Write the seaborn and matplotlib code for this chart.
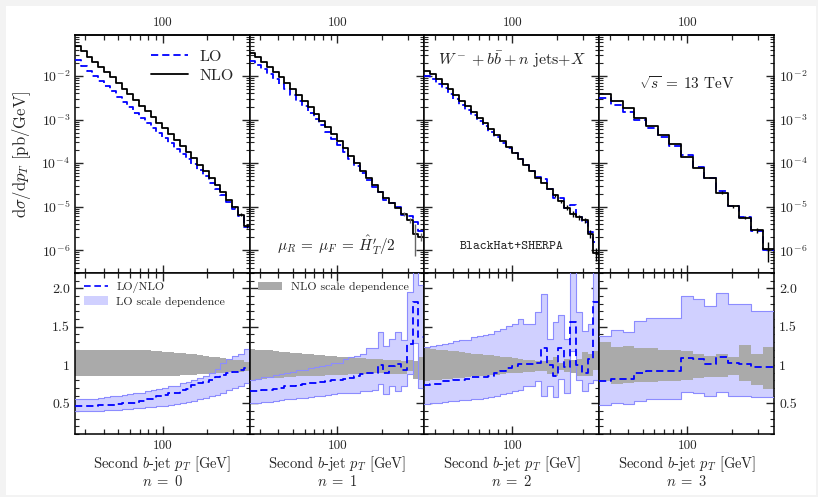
import numpy as np
import pandas as pd
import matplotlib
matplotlib.use("Agg")
import matplotlib.pyplot as plt
import seaborn as sns
from matplotlib.ticker import (FixedLocator, NullFormatter, FixedFormatter, LogLocator,
                               MultipleLocator, FuncFormatter, NullLocator)
from matplotlib.lines import Line2D
from matplotlib.patches import Patch, Rectangle

# ---------------- data ----------------
x_range = (25.5, 385.0)
n_bins_fine = 30
n_bins_coarse = 15
panel_labels = [r"$n\;=\;0$", r"$n\;=\;1$", r"$n\;=\;2$", r"$n\;=\;3$"]

nlo_n0 = [4.90e-2, 3.72e-2, 2.82e-2, 2.14e-2, 1.62e-2, 1.23e-2, 9.33e-3, 6.92e-3, 5.13e-3, 3.80e-3,
          2.82e-3, 2.09e-3, 1.55e-3, 1.15e-3, 8.51e-4, 6.31e-4, 4.57e-4, 3.39e-4, 2.45e-4, 1.78e-4,
          1.29e-4, 9.12e-5, 6.46e-5, 4.47e-5, 3.09e-5, 2.14e-5, 1.45e-5, 9.77e-6, 6.61e-6, 3.6e-6]
nlo_n1 = [3.31e-2, 2.75e-2, 2.14e-2, 1.66e-2, 1.26e-2, 9.55e-3, 7.08e-3, 5.13e-3, 3.72e-3, 2.69e-3,
          1.91e-3, 1.35e-3, 9.55e-4, 6.61e-4, 4.57e-4, 3.16e-4, 2.19e-4, 1.48e-4, 1.00e-4, 6.76e-5,
          4.68e-5, 3.16e-5, 2.19e-5, 1.58e-5, 1.20e-5, 9.5e-6, 6.9e-6, 4.9e-6, 2.4e-6, 2.04e-6]
nlo_n2 = [1.32e-2, 1.12e-2, 8.71e-3, 6.61e-3, 5.01e-3, 3.72e-3, 2.75e-3, 2.04e-3, 1.51e-3, 1.12e-3,
          8.32e-4, 6.17e-4, 4.47e-4, 3.24e-4, 2.34e-4, 1.70e-4, 1.23e-4, 8.91e-5, 6.46e-5, 4.68e-5,
          3.47e-5, 2.51e-5, 1.82e-5, 1.32e-5, 9.55e-6, 6.92e-6, 5.75e-6, 4.90e-6, 2.40e-6, 8.5e-7]
nlo_n3 = [3.89e-3, 2.69e-3, 1.82e-3, 1.12e-3, 7.08e-4, 4.37e-4, 2.69e-4, 1.41e-4, 7.59e-5, 4.47e-5,
          2.09e-5, 1.02e-5, 5.62e-6, 2.88e-6, 1.05e-6]

ratio_n0 = [0.47, 0.47, 0.47, 0.47, 0.475, 0.48, 0.48, 0.49, 0.50, 0.505,
            0.51, 0.53, 0.55, 0.56, 0.59, 0.61, 0.63, 0.64, 0.67, 0.69,
            0.74, 0.76, 0.78, 0.80, 0.84, 0.87, 0.90, 0.91, 0.93, 0.96]
ratio_n1 = [0.66, 0.66, 0.67, 0.68, 0.69, 0.70, 0.72, 0.73, 0.74, 0.75,
            0.76, 0.77, 0.78, 0.79, 0.80, 0.81, 0.82, 0.83, 0.86, 0.88,
            0.89, 0.90, 1.00, 0.89, 0.99, 1.01, 0.93, 1.27, 1.82, 1.36]
ratio_n2 = [0.745, 0.75, 0.75, 0.79, 0.79, 0.81, 0.81, 0.82, 0.84, 0.85,
            0.85, 0.86, 0.90, 0.92, 0.96, 0.99, 1.01, 1.01, 1.01, 1.02,
            1.22, 1.00, 0.86, 1.22, 0.98, 1.56, 1.00, 0.90, 1.08, 1.82]
ratio_n3 = [0.79, 0.82, 0.82, 0.89, 0.92, 0.92, 0.92, 1.09, 1.075, 1.01,
            1.105, 1.02, 1.01, 0.98, 0.98]

lo_band_hi_n0 = [0.55, 0.55, 0.56, 0.56, 0.57, 0.58, 0.59, 0.60, 0.61, 0.62,
                 0.63, 0.64, 0.66, 0.67, 0.69, 0.70, 0.72, 0.73, 0.76, 0.78,
                 0.80, 0.83, 0.86, 0.90, 0.95, 1.02, 1.08, 1.12, 1.15, 1.21]
lo_band_lo_n0 = [0.395, 0.395, 0.40, 0.40, 0.40, 0.41, 0.41, 0.415, 0.42, 0.43,
                 0.435, 0.44, 0.45, 0.455, 0.46, 0.47, 0.48, 0.49, 0.505, 0.52,
                 0.535, 0.55, 0.57, 0.59, 0.61, 0.64, 0.67, 0.70, 0.73, 0.77]
lo_band_hi_n1 = [0.81, 0.82, 0.84, 0.85, 0.87, 0.88, 0.90, 0.91, 0.93, 0.94,
                 0.96, 0.97, 0.99, 1.00, 1.02, 1.03, 1.08, 1.10, 1.12, 1.15,
                 1.22, 1.22, 1.43, 1.25, 1.34, 1.43, 1.33, 1.95, 2.60, 2.05]
lo_band_lo_n1 = [0.50, 0.51, 0.52, 0.52, 0.53, 0.54, 0.55, 0.56, 0.57, 0.57,
                 0.58, 0.59, 0.60, 0.61, 0.62, 0.63, 0.63, 0.64, 0.64, 0.66,
                 0.66, 0.68, 0.75, 0.62, 0.72, 0.66, 0.72, 0.88, 1.29, 0.70]
lo_band_hi_n2 = [1.24, 1.25, 1.26, 1.28, 1.29, 1.31, 1.32, 1.33, 1.36, 1.38,
                 1.39, 1.40, 1.45, 1.47, 1.51, 1.53, 1.60, 1.54, 1.54, 1.69,
                 1.93, 1.34, 1.56, 1.65, 1.34, 2.60, 1.69, 1.45, 1.54, 2.60]
lo_band_lo_n2 = [0.495, 0.50, 0.51, 0.52, 0.53, 0.535, 0.54, 0.545, 0.55, 0.56,
                 0.57, 0.58, 0.60, 0.62, 0.64, 0.66, 0.68, 0.72, 0.72, 0.79,
                 0.59, 0.72, 0.58, 0.82, 0.64, 1.18, 0.80, 0.66, 0.76, 0.80]
lo_band_hi_n3 = [1.38, 1.46, 1.43, 1.58, 1.615, 1.615, 1.615, 1.90, 1.855, 1.77,
                 1.94, 1.80, 1.80, 1.71, 1.71]
lo_band_lo_n3 = [0.475, 0.505, 0.49, 0.535, 0.56, 0.56, 0.56, 0.645, 0.63, 0.60,
                 0.65, 0.60, 0.60, 0.585, 0.585]

nlo_band_hi_n0 = [1.19, 1.19, 1.195, 1.20, 1.20, 1.20, 1.20, 1.20, 1.20, 1.20,
                  1.195, 1.19, 1.19, 1.185, 1.18, 1.175, 1.17, 1.16, 1.155, 1.15,
                  1.14, 1.13, 1.12, 1.11, 1.10, 1.09, 1.08, 1.07, 1.06, 1.045]
nlo_band_lo_n0 = [0.855, 0.855, 0.855, 0.855, 0.855, 0.855, 0.855, 0.855, 0.855, 0.855,
                  0.855, 0.855, 0.855, 0.855, 0.856, 0.858, 0.86, 0.862, 0.865, 0.87,
                  0.875, 0.88, 0.885, 0.89, 0.895, 0.90, 0.905, 0.91, 0.915, 0.925]
nlo_band_hi_n1 = [1.21, 1.20, 1.195, 1.19, 1.18, 1.175, 1.17, 1.16, 1.155, 1.15,
                  1.14, 1.135, 1.13, 1.12, 1.115, 1.11, 1.10, 1.095, 1.09, 1.085,
                  1.08, 1.075, 1.08, 1.07, 1.06, 1.06, 1.05, 1.06, 1.05, 1.10]
nlo_band_lo_n1 = [0.81, 0.815, 0.82, 0.825, 0.83, 0.835, 0.84, 0.845, 0.85, 0.85,
                  0.855, 0.86, 0.86, 0.865, 0.87, 0.87, 0.875, 0.88, 0.88, 0.885,
                  0.885, 0.89, 0.89, 0.89, 0.88, 0.88, 0.88, 0.92, 0.82, 0.80]
nlo_band_hi_n2 = [1.22, 1.21, 1.20, 1.19, 1.185, 1.18, 1.17, 1.16, 1.15, 1.14,
                  1.13, 1.125, 1.115, 1.105, 1.10, 1.09, 1.08, 1.07, 1.06, 1.05,
                  1.05, 1.06, 1.10, 1.03, 1.08, 1.06, 1.08, 1.17, 1.15, 1.18]
nlo_band_lo_n2 = [0.79, 0.80, 0.81, 0.815, 0.82, 0.83, 0.835, 0.84, 0.85, 0.855,
                  0.86, 0.87, 0.875, 0.88, 0.89, 0.895, 0.90, 0.91, 0.915, 0.92,
                  0.92, 0.88, 0.86, 0.94, 0.91, 0.89, 0.86, 0.86, 0.86, 0.94]
nlo_band_hi_n3 = [1.295, 1.24, 1.25, 1.22, 1.22, 1.19, 1.19, 1.18, 1.15, 1.12,
                  1.15, 1.10, 1.26, 1.14, 1.24]
nlo_band_lo_n3 = [0.79, 0.755, 0.76, 0.78, 0.78, 0.79, 0.79, 0.81, 0.83, 0.84,
                  0.84, 0.865, 0.79, 0.74, 0.69]

# relative statistical errors of NLO (shown only in the tails)
nlo_relerr_n0 = [0] * 27 + [0.05, 0.06, 0.10]
nlo_relerr_n1 = [0] * 26 + [0.10, 0.12, 0.70, 0.20]
nlo_relerr_n2 = [0] * 22 + [0.08, 0.10, 0.12, 0.15, 0.12, 0.15, 0.20, 0.35]
nlo_relerr_n3 = [0] * 10 + [0.08, 0.10, 0.08, 0.15, 0.50]

nlo_all = [nlo_n0, nlo_n1, nlo_n2, nlo_n3]
ratio_all = [ratio_n0, ratio_n1, ratio_n2, ratio_n3]
lo_hi_all = [lo_band_hi_n0, lo_band_hi_n1, lo_band_hi_n2, lo_band_hi_n3]
lo_lo_all = [lo_band_lo_n0, lo_band_lo_n1, lo_band_lo_n2, lo_band_lo_n3]
nlo_hi_all = [nlo_band_hi_n0, nlo_band_hi_n1, nlo_band_hi_n2, nlo_band_hi_n3]
nlo_lo_all = [nlo_band_lo_n0, nlo_band_lo_n1, nlo_band_lo_n2, nlo_band_lo_n3]
err_all = [nlo_relerr_n0, nlo_relerr_n1, nlo_relerr_n2, nlo_relerr_n3]
nbins_all = [n_bins_fine, n_bins_fine, n_bins_fine, n_bins_coarse]

# ---------------- style ----------------
sns.set_style("ticks")
plt.rcParams.update({
    "font.family": ["cmr10", "DejaVu Serif"],
    "mathtext.fontset": "cm",
    "axes.formatter.use_mathtext": True,
    "axes.unicode_minus": False,
    "axes.linewidth": 1.1,
    "axes.edgecolor": "black",
})

LO_BLUE = "#0000ff"
LO_FILL = "#d0d0ff"
LO_EDGE = "#8c8cff"
NLO_GRAY = "#aaaaaa"

W, H = 818, 497
fig = plt.figure(figsize=(W / 100, H / 100), dpi=100)
fig.patch.set_facecolor("#f3f3f3")
fig.patches.append(Rectangle((6 / W, 2 / H), 810 / W, 489 / H, transform=fig.transFigure,
                             facecolor="white", edgecolor="none", zorder=-10))


def rect(x0, y0, x1, y1):
    return [x0 / W, 1 - y1 / H, (x1 - x0) / W, (y1 - y0) / H]


col_x = [75, 249.5, 424.2, 599.2, 774.2]
top_y = (35, 273)
bot_y = (273, 434)


def step_line(ax, edges, vals, **kw):
    df = pd.DataFrame({"x": edges, "y": np.append(vals, vals[-1])})
    sns.lineplot(data=df, x="x", y="y", ax=ax, drawstyle="steps-post",
                 estimator=None, sort=False, legend=False, **kw)


def style_x(ax, labels_bottom=False):
    ax.set_xscale("log")
    ax.set_xlim(*x_range)
    ax.xaxis.set_major_locator(FixedLocator([100]))
    ax.xaxis.set_minor_locator(FixedLocator([30, 40, 50, 60, 70, 80, 90, 200, 300]))
    ax.xaxis.set_minor_formatter(NullFormatter())
    if labels_bottom:
        ax.xaxis.set_major_formatter(FixedFormatter(["100"]))
    else:
        ax.xaxis.set_major_formatter(NullFormatter())
    ax.tick_params(axis="x", which="both", direction="in", top=True, bottom=True,
                   labeltop=False, labelbottom=labels_bottom, labelsize=9.5, pad=4)
    ax.tick_params(axis="x", which="major", length=6, width=1.0)
    ax.tick_params(axis="x", which="minor", length=3.5, width=0.9)
    ax.set_xlabel("")


for i in range(4):
    edges = np.geomspace(x_range[0], x_range[1], nbins_all[i] + 1)
    centers = np.sqrt(edges[:-1] * edges[1:])
    nlo = np.array(nlo_all[i])
    ratio = np.array(ratio_all[i])
    lo = nlo * ratio

    # ---------- top panel ----------
    axt = fig.add_axes(rect(col_x[i], top_y[0], col_x[i + 1], top_y[1]))
    axt.set_yscale("log")
    style_x(axt, labels_bottom=False)
    step_line(axt, edges, lo, color=LO_BLUE, linewidth=1.3, linestyle=(0, (4, 2.2)), zorder=3)
    step_line(axt, edges, nlo, color="black", linewidth=1.3, zorder=4)
    err = np.array(err_all[i])
    m = err > 0
    axt.errorbar(centers[m], nlo[m], yerr=nlo[m] * err[m], fmt="none",
                 ecolor="black" if i != 1 else "#666666", elinewidth=1.0, zorder=5)
    axt.set_ylim(3.0e-7, 8.8e-2)
    axt.yaxis.set_major_locator(LogLocator(base=10, numticks=20))
    axt.yaxis.set_minor_locator(LogLocator(base=10, subs=np.arange(2, 10), numticks=20))
    axt.yaxis.set_minor_formatter(NullFormatter())
    axt.yaxis.set_major_formatter(FuncFormatter(lambda v, p: r"$10^{%d}$" % round(np.log10(v))))
    axt.tick_params(axis="y", which="both", direction="in", left=True, right=True,
                    labelleft=(i == 0), labelright=(i == 3), labelsize=10)
    axt.tick_params(axis="y", which="major", length=6, width=1.0)
    axt.tick_params(axis="y", which="minor", length=3, width=0.8)
    axt.set_ylabel("")
    # tick labels above the top panel
    sec = axt.secondary_xaxis("top")
    sec.xaxis.set_major_locator(FixedLocator([100]))
    sec.xaxis.set_major_formatter(FixedFormatter(["100"]))
    sec.xaxis.set_minor_locator(NullLocator())
    sec.tick_params(axis="x", which="both", direction="in", length=0, labelsize=9.5, pad=4)

    # ---------- bottom panel ----------
    axb = fig.add_axes(rect(col_x[i], bot_y[0], col_x[i + 1], bot_y[1]))
    axb.set_xscale("log")
    lo_lo = np.array(lo_lo_all[i])
    lo_hi = np.array(lo_hi_all[i])
    n_lo = np.array(nlo_lo_all[i])
    n_hi = np.array(nlo_hi_all[i])
    axb.fill_between(edges, np.append(lo_lo, lo_lo[-1]), np.append(lo_hi, lo_hi[-1]),
                     step="post", color=LO_FILL, linewidth=0, zorder=1)
    axb.fill_between(edges, np.append(n_lo, n_lo[-1]), np.append(n_hi, n_hi[-1]),
                     step="post", color=NLO_GRAY, linewidth=0, zorder=2)
    axb.step(edges, np.append(lo_lo, lo_lo[-1]), where="post", color=LO_EDGE, lw=0.8, zorder=3)
    axb.step(edges, np.append(lo_hi, lo_hi[-1]), where="post", color=LO_EDGE, lw=0.8, zorder=3)
    step_line(axb, edges, ratio, color=LO_BLUE, linewidth=1.3, linestyle=(0, (4, 2.2)), zorder=4)
    style_x(axb, labels_bottom=True)
    axb.set_ylim(0.1, 2.2)
    axb.yaxis.set_major_locator(FixedLocator([0.5, 1.0, 1.5, 2.0]))
    axb.yaxis.set_major_formatter(FixedFormatter(["0.5", "1", "1.5", "2.0"]))
    axb.yaxis.set_minor_locator(MultipleLocator(0.1))
    axb.tick_params(axis="y", which="both", direction="in", left=True, right=True,
                    labelleft=(i == 0), labelright=(i == 3), labelsize=10)
    axb.tick_params(axis="y", which="major", length=6, width=1.0)
    axb.tick_params(axis="y", which="minor", length=3, width=0.8)
    axb.set_ylabel("")
    axb.set_xlabel("Second $b$-jet $p_T$ [GeV]\n" + panel_labels[i], fontsize=10.5,
                   labelpad=2, linespacing=1.0)

    if i == 0:
        axt.set_ylabel(r"$\mathrm{d}\sigma/\mathrm{d}p_T$ [pb/GeV]", fontsize=12, labelpad=6)
        h = [Line2D([], [], color=LO_BLUE, lw=1.3, linestyle=(0, (4, 2.2))),
             Line2D([], [], color="black", lw=1.3)]
        axt.legend(h, ["LO", "NLO"], loc="upper right", bbox_to_anchor=(0.99, 1.0),
                   frameon=False, fontsize=11.5, handlelength=2.3, handletextpad=0.7,
                   labelspacing=0.3)
        hb = [Line2D([], [], color=LO_BLUE, lw=1.2, linestyle=(0, (4, 2.2))),
              Patch(facecolor=LO_FILL, edgecolor="none")]
        axb.legend(hb, ["LO/NLO", "LO scale dependence"], loc="upper left",
                   bbox_to_anchor=(0.0, 1.0), frameon=False, fontsize=8.6,
                   handlelength=2.0, handletextpad=0.7, labelspacing=0.25,
                   borderaxespad=0.35)
    if i == 1:
        axt.text(0.5, 0.115, r"$\mu_R\:=\:\mu_F\:=\:\hat{H}_T^{\prime}/2$", transform=axt.transAxes,
                 ha="center", va="center", fontsize=11, color="#222222")
        axb.legend([Patch(facecolor=NLO_GRAY, edgecolor="none")], ["NLO scale dependence"],
                   loc="upper left", bbox_to_anchor=(0.0, 1.0), frameon=False, fontsize=8.6,
                   handlelength=2.0, handletextpad=0.7, borderaxespad=0.35)
    if i == 2:
        axt.text(0.5, 0.895, r"$W^- + b\bar{b} + n$ jets$+X$", transform=axt.transAxes,
                 ha="center", va="center", fontsize=11.5, color="#222222")
        axt.text(0.5, 0.11, "BlackHat+SHERPA", transform=axt.transAxes, ha="center",
                 va="center", fontsize=9.5, family=["cmtt10", "DejaVu Sans Mono"], color="#222222")
    if i == 3:
        axt.text(0.5, 0.795, r"$\sqrt{s}\:=\:13$ TeV", transform=axt.transAxes,
                 ha="center", va="center", fontsize=11, color="#222222")

fig.savefig("out.png", dpi=100, facecolor=fig.get_facecolor())
